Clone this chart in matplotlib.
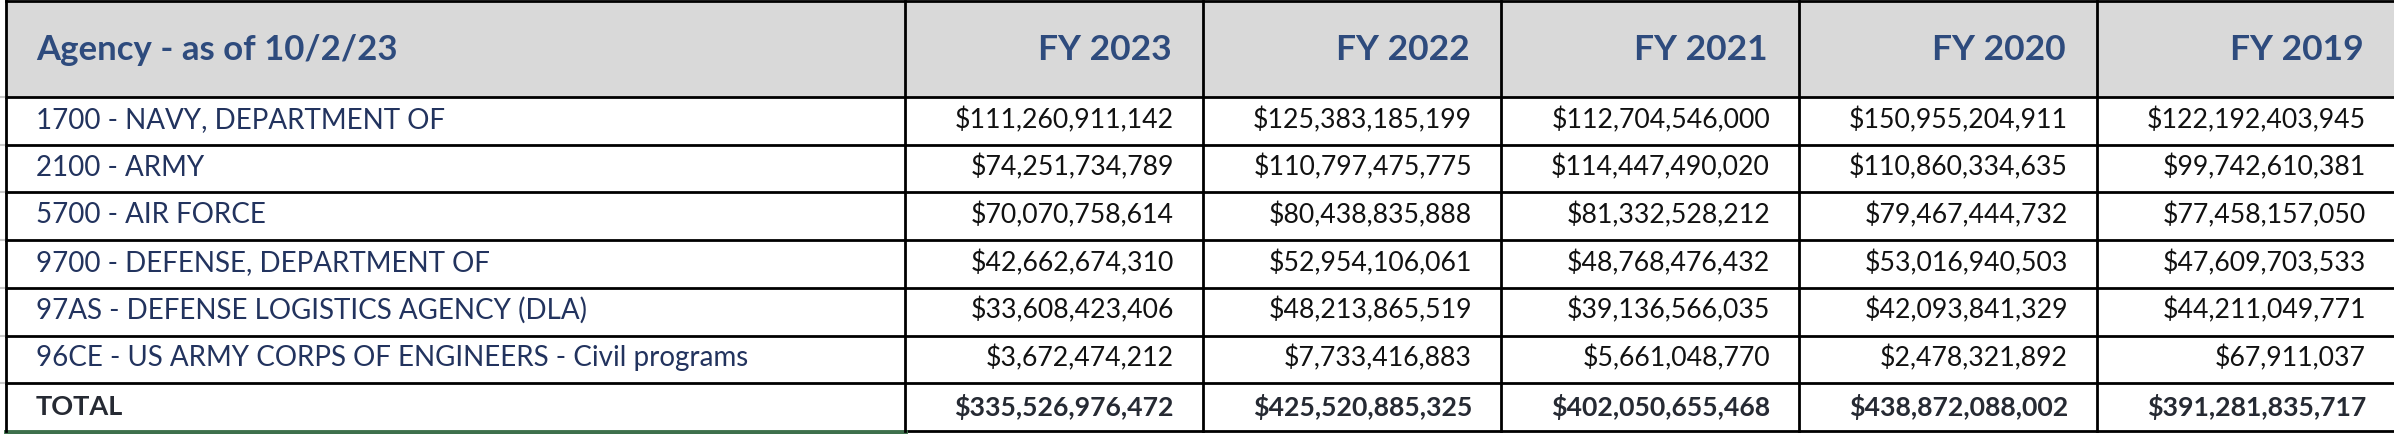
import matplotlib
matplotlib.use("Agg")
from matplotlib import pyplot as plt
from matplotlib.patches import Rectangle

# table data
title = "Agency - as of 10/2/23"
years = ["FY 2023", "FY 2022", "FY 2021", "FY 2020", "FY 2019"]
agencies = [
    "1700 - NAVY, DEPARTMENT OF",
    "2100 - ARMY",
    "5700 - AIR FORCE",
    "9700 - DEFENSE, DEPARTMENT OF",
    "97AS - DEFENSE LOGISTICS AGENCY (DLA)",
    "96CE - US ARMY CORPS OF ENGINEERS - Civil programs",
]
fy2023 = [111260911142, 74251734789, 70070758614, 42662674310, 33608423406, 3672474212]
fy2022 = [125383185199, 110797475775, 80438835888, 52954106061, 48213865519, 7733416883]
fy2021 = [112704546000, 114447490020, 81332528212, 48768476432, 39136566035, 5661048770]
fy2020 = [150955204911, 110860334635, 79467444732, 53016940503, 42093841329, 2478321892]
fy2019 = [122192403945, 99742610381, 77458157050, 47609703533, 44211049771, 67911037]
totals = [335526976472, 425520885325, 402050655468, 438872088002, 391281835717]

W, H = 2394, 434
fig = plt.figure(figsize=(W / 100, H / 100), dpi=100)
ax = fig.add_axes([0, 0, 1, 1])
ax.set_xlim(0, W)
ax.set_ylim(H, 0)
ax.axis("off")

plt.rcParams["font.family"] = ["Lato", "DejaVu Sans"]

left = 6
col_edges = [left, 905, 1203, 1501, 1799, 2097, 2395]
header_bot = 97
row_h = (431 - header_bot) / 7
row_edges = [0] + [header_bot + i * row_h for i in range(8)]

hdr_col = "#2e4b7d"
agency_col = "#22335e"

# header background
ax.add_patch(Rectangle((left, 1), W - left, header_bot - 1, facecolor="#d9d9d9", edgecolor="none"))

# header text
ax.text(36, 50, title, fontsize=25, fontweight="bold", color=hdr_col, va="center", ha="left")
for j, yr in enumerate(years):
    ax.text(col_edges[j + 2] - 31, 50, yr, fontsize=25.5, fontweight="bold", color=hdr_col,
            va="center", ha="right")

columns = [fy2023, fy2022, fy2021, fy2020, fy2019]
for i, name in enumerate(agencies):
    yc = (row_edges[i + 1] + row_edges[i + 2]) / 2 - 1
    ax.text(36, yc, name, fontsize=20, color=agency_col, va="center", ha="left")
    for j, col in enumerate(columns):
        ax.text(col_edges[j + 2] - 29, yc, f"${col[i]:,}", fontsize=19.2, color="#111111",
                va="center", ha="right")

yc = (row_edges[7] + row_edges[8]) / 2
ax.text(36, yc, "TOTAL", fontsize=19.5, fontweight="bold", color="#262a33", va="center", ha="left")
for j, t in enumerate(totals):
    ax.text(col_edges[j + 2] - 29, yc, f"${t:,}", fontsize=19.2, fontweight="bold", color="#262a33",
            va="center", ha="right")

# grid lines
ax.plot([left, W], [1, 1], color="black", lw=2)
for y in row_edges[1:-1]:
    ax.plot([left, W], [y, y], color="black", lw=2)
    ax.plot([0, left], [y, y], color="#c8c8c8", lw=1.5)
ax.plot([col_edges[1], W], [431, 431], color="black", lw=2)
ax.plot([left, col_edges[1]], [432, 432], color="#3e704c", lw=3.5)
for x in col_edges[:-1]:
    ax.plot([x, x], [1, 431], color="black", lw=2)

fig.savefig("out.png", dpi=100)
